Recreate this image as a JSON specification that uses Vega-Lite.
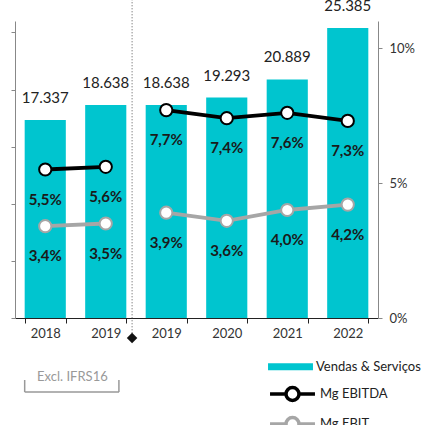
{
  "$schema": "https://vega.github.io/schema/vega-lite/v6.json",
  "width": 363,
  "height": 297,
  "autosize": {"type": "none"},
  "padding": {"left": 15, "top": 21, "right": 49, "bottom": 107},
  "background": "white",
  "config": {
    "font": "Lato",
    "view": {"stroke": null},
    "locale": {"number": {"decimal": ",", "thousands": ".", "grouping": [3], "currency": ["", "€"]}}
  },
  "datasets": {
    "sales": [
      {"cat": "2018", "vendas": 17337},
      {"cat": "2019*", "vendas": 18638},
      {"cat": "2019", "vendas": 18638},
      {"cat": "2020", "vendas": 19293},
      {"cat": "2021", "vendas": 20889},
      {"cat": "2022", "vendas": 25385}
    ],
    "margins": [
      {"cat": "2018", "series": "Mg EBITDA", "period": "excl", "value": 0.055},
      {"cat": "2019*", "series": "Mg EBITDA", "period": "excl", "value": 0.056},
      {"cat": "2019", "series": "Mg EBITDA", "period": "incl", "value": 0.077},
      {"cat": "2020", "series": "Mg EBITDA", "period": "incl", "value": 0.074},
      {"cat": "2021", "series": "Mg EBITDA", "period": "incl", "value": 0.076},
      {"cat": "2022", "series": "Mg EBITDA", "period": "incl", "value": 0.073},
      {"cat": "2018", "series": "Mg EBIT", "period": "excl", "value": 0.034},
      {"cat": "2019*", "series": "Mg EBIT", "period": "excl", "value": 0.035},
      {"cat": "2019", "series": "Mg EBIT", "period": "incl", "value": 0.039},
      {"cat": "2020", "series": "Mg EBIT", "period": "incl", "value": 0.036},
      {"cat": "2021", "series": "Mg EBIT", "period": "incl", "value": 0.040},
      {"cat": "2022", "series": "Mg EBIT", "period": "incl", "value": 0.042}
    ]
  },
  "layer": [
    {
      "data": {"name": "sales"},
      "layer": [
        {
          "mark": {"type": "bar"},
          "encoding": {
            "x": {
              "field": "cat", "type": "nominal", "sort": null, "title": null,
              "scale": {"domain": ["2018", "2019*", "2019", "2020", "2021", "2022"], "paddingInner": 0.32, "paddingOuter": 0.16},
              "axis": {
                "labelExpr": "replace(datum.label, '*', '')",
                "labelAngle": 0, "labelFontSize": 13, "labelColor": "#333", "labelPadding": 4,
                "domainColor": "#222", "tickColor": "#222", "tickSize": 5, "tickBand": "extent", "title": null
              }
            },
            "y": {
              "field": "vendas", "type": "quantitative", "title": null,
              "scale": {"domain": [0, 26000]},
              "axis": {"orient": "left", "labels": false, "values": [0, 5000, 10000, 15000, 20000, 25000], "tickSize": 4, "domainColor": "#888", "tickColor": "#888", "grid": false, "title": null}
            },
            "fill": {
              "datum": "Vendas & Serviços", "type": "nominal",
              "scale": {"range": ["#00C5CF"]},
              "legend": {
                "orient": "none", "legendX": 268.5, "legendY": 338.7, "title": null, "padding": 0,
                "symbolType": "M-3.21,-0.5H3.21V0.5H-3.21Z", "symbolSize": 196, "labelOffset": 18.5,
                "labelFontSize": 13, "labelColor": "#222", "symbolStrokeWidth": 0
              }
            }
          }
        },
        {
          "mark": {"type": "text", "fontSize": 15, "color": "#222", "baseline": "alphabetic", "dy": -17},
          "encoding": {
            "x": {"field": "cat", "type": "nominal", "sort": null, "title": null},
            "y": {"field": "vendas", "type": "quantitative", "title": null},
            "text": {"field": "vendas", "type": "quantitative", "format": ","}
          }
        }
      ]
    },
    {
      "data": {"name": "margins"},
      "layer": [
        {
          "mark": {"type": "line", "strokeWidth": 3.8},
          "encoding": {
            "x": {"field": "cat", "type": "nominal", "sort": null, "title": null},
            "y": {
              "field": "value", "type": "quantitative", "title": null,
              "scale": {"domain": [0, 0.11]},
              "axis": {"orient": "right", "values": [0, 0.05, 0.1], "format": ".0%", "tickSize": 4, "labelPadding": 7, "labelFontSize": 13, "labelColor": "#333", "domainColor": "#888", "tickColor": "#888", "grid": false, "title": null}
            },
            "detail": {"field": "period"},
            "stroke": {
              "field": "series", "type": "nominal",
              "scale": {"domain": ["Mg EBITDA", "Mg EBIT"], "range": ["#000000", "#A6A6A6"]},
              "legend": {
                "orient": "none", "legendX": 268.5, "legendY": 364, "title": null, "padding": 0,
                "symbolType": "M-3.21,0H-0.93M0.93,0H3.21M0.93,0A0.93,0.93,0,1,1,-0.93,0A0.93,0.93,0,1,1,0.93,0",
                "symbolSize": 196, "labelOffset": 18.5, "rowPadding": 2,
                "labelFontSize": 13, "labelColor": "#222", "symbolStrokeWidth": 3.5, "symbolFillColor": "white",
                "encode": {"symbols": {"update": {"fill": {"value": "white"}}}}
              }
            }
          }
        },
        {
          "mark": {"type": "point", "shape": "circle", "filled": true, "fill": "white", "size": 150, "strokeWidth": 2, "opacity": 1},
          "encoding": {
            "x": {"field": "cat", "type": "nominal", "sort": null, "title": null},
            "y": {"field": "value", "type": "quantitative", "title": null},
            "stroke": {"field": "series", "type": "nominal"}
          }
        },
        {
          "mark": {"type": "text", "fontSize": 15, "fontWeight": "bold", "color": "#1a1a1a", "baseline": "middle", "dy": 30},
          "encoding": {
            "x": {"field": "cat", "type": "nominal", "sort": null, "title": null},
            "y": {"field": "value", "type": "quantitative", "title": null},
            "text": {"field": "value", "type": "quantitative", "format": ".1%"}
          }
        }
      ]
    },
    {
      "data": {"values": [{}]},
      "layer": [
        {
          "mark": {"type": "rule", "strokeDash": [1, 2], "color": "#555", "strokeWidth": 1},
          "encoding": {
            "x": {"datum": "2019*", "bandPosition": 1.14},
            "y": {"datum": 27900, "type": "quantitative", "scale": {"domain": [0, 26000]}, "axis": null},
            "y2": {"datum": -1751}
          }
        },
        {
          "mark": {"type": "point", "shape": "diamond", "filled": true, "color": "#111", "size": 110, "opacity": 1},
          "encoding": {
            "x": {"datum": "2019*", "bandPosition": 1.14},
            "y": {"datum": -1751, "type": "quantitative"}
          }
        },
        {
          "mark": {"type": "text", "text": "Excl. IFRS16", "fontSize": 13, "color": "#999", "baseline": "middle", "align": "center"},
          "encoding": {
            "x": {"datum": "2018", "bandPosition": 1.16},
            "y": {"datum": -5139, "type": "quantitative"}
          }
        },
        {
          "mark": {"type": "rule", "color": "#999", "strokeWidth": 1.5, "x2Offset": 13.3},
          "encoding": {
            "x": {"datum": "2018", "bandPosition": 0},
            "x2": {"datum": "2019*"},
            "y": {"datum": -6479, "type": "quantitative"}
          }
        },
        {
          "mark": {"type": "rule", "color": "#999", "strokeWidth": 1.5},
          "encoding": {
            "x": {"datum": "2018", "bandPosition": 0},
            "y": {"datum": -5428, "type": "quantitative"},
            "y2": {"datum": -6479}
          }
        },
        {
          "mark": {"type": "rule", "color": "#999", "strokeWidth": 1.5},
          "encoding": {
            "x": {"datum": "2019*", "bandPosition": 0.82},
            "y": {"datum": -5428, "type": "quantitative"},
            "y2": {"datum": -6479}
          }
        }
      ]
    }
  ],
  "resolve": {"scale": {"y": "independent"}}
}
